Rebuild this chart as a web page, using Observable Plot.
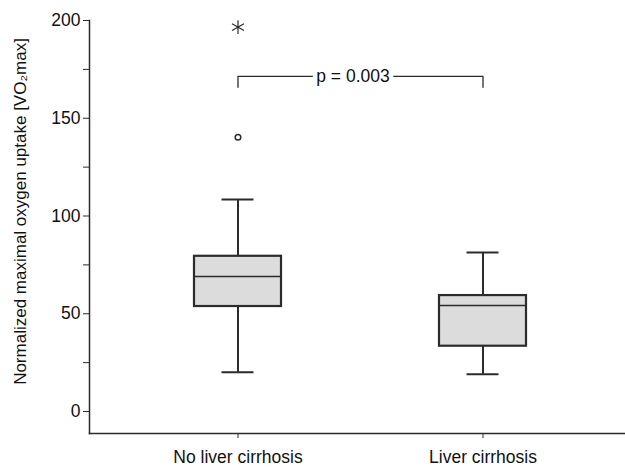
<!DOCTYPE html>
<html>
<head>
<meta charset="utf-8">
<script src="https://cdn.jsdelivr.net/npm/d3@7"></script>
<script src="https://cdn.jsdelivr.net/npm/@observablehq/plot@0.6"></script>
<style>
  html, body { margin: 0; padding: 0; background: #fff; }
  svg { font-family: "Liberation Sans", Arial, sans-serif; }
</style>
</head>
<body>
<div id="chart"></div>
<script>
const groups = ["No liver cirrhosis", "Liver cirrhosis"];
const whiskerLow = [20.1, 19.1];
const q1 = [53.7, 33.4];
const median = [69, 54.2];
const q3 = [79.4, 59.3];
const whiskerHigh = [108.4, 81.3];
const outlierGroups = ["No liver cirrhosis"];
const outlierValues = [140.3];
const extremeGroups = ["No liver cirrhosis"];
const extremeValues = [196.6];
const majorTicks = [0, 50, 100, 150, 200];
const minorTicks = [25, 75, 125, 175];
const bracketLow = 165.8;
const bracketHigh = 171.4;
const pLabel = "p = 0.003";
const yLabel = "Normalized maximal oxygen uptake [VO\u2082max]";

const boxes = groups.map((g, i) => ({g, lo: whiskerLow[i], q1: q1[i], med: median[i], q3: q3[i], hi: whiskerHigh[i]}));
const outliers = outlierGroups.map((g, i) => ({g, v: outlierValues[i]}));
const extremes = extremeGroups.map((g, i) => ({g, v: extremeValues[i]}));
const bracket = [
  {g: groups[0], v: bracketLow},
  {g: groups[0], v: bracketHigh},
  {g: groups[1], v: bracketHigh},
  {g: groups[1], v: bracketLow}
];

const ink = "#2b2b2b";
const chart = Plot.plot({
  width: 625,
  height: 472,
  marginLeft: 89,
  marginRight: 0,
  marginTop: 20,
  marginBottom: 39,
  style: {fontSize: "17.5px", color: ink, background: "#fff"},
  x: {type: "band", domain: groups, range: [114.5, 604.5], paddingInner: 0.645, paddingOuter: 0.3225},
  y: {domain: [-11.25, 200]},
  marks: [
    Plot.frame({anchor: "left", stroke: ink, strokeWidth: 1.5}),
    Plot.frame({anchor: "bottom", stroke: ink, strokeWidth: 1.5}),
    Plot.axisY({ticks: majorTicks, tickSize: 6, tickPadding: 3, label: null, stroke: ink, fill: "#111", fontSize: 17.5}),
    Plot.axisY({ticks: minorTicks, tickSize: 6, tickFormat: () => "", label: null, stroke: ink}),
    Plot.axisX({tickSize: 5, tickPadding: 12, label: null, stroke: ink, fill: "#111", fontSize: 17.5}),
    Plot.text([yLabel], {frameAnchor: "left", y: [102.3], dx: -69, rotate: -90, textAnchor: "middle", fontSize: 17, fill: "#111"}),
    Plot.ruleX(boxes, {x: "g", y1: "lo", y2: "q1", stroke: ink, strokeWidth: 2}),
    Plot.ruleX(boxes, {x: "g", y1: "q3", y2: "hi", stroke: ink, strokeWidth: 2}),
    Plot.tickY(boxes, {x: "g", y: "lo", stroke: ink, strokeWidth: 2, insetLeft: 27.5, insetRight: 27.5}),
    Plot.tickY(boxes, {x: "g", y: "hi", stroke: ink, strokeWidth: 2, insetLeft: 27.5, insetRight: 27.5}),
    Plot.rectY(boxes, {x: "g", y1: "q1", y2: "q3", fill: "#dcdcdc", stroke: ink, strokeWidth: 2.2}),
    Plot.tickY(boxes, {x: "g", y: "med", stroke: ink, strokeWidth: 1.5}),
    Plot.dot(outliers, {x: "g", y: "v", r: 2.8, stroke: ink, strokeWidth: 1.5, fill: "#fff"}),
    Plot.dot(extremes, {x: "g", y: "v", r: 6.5, symbol: "asterisk", stroke: ink, strokeWidth: 1.2}),
    Plot.line(bracket, {x: "g", y: "v", stroke: ink, strokeWidth: 1.3}),
    Plot.text([pLabel], {x: [groups[0]], y: [bracketHigh], dx: 115, fontSize: 17.5, fill: "#111", stroke: "#fff", strokeWidth: 9})
  ]
});
document.getElementById("chart").appendChild(chart);
</script>
</body>
</html>
